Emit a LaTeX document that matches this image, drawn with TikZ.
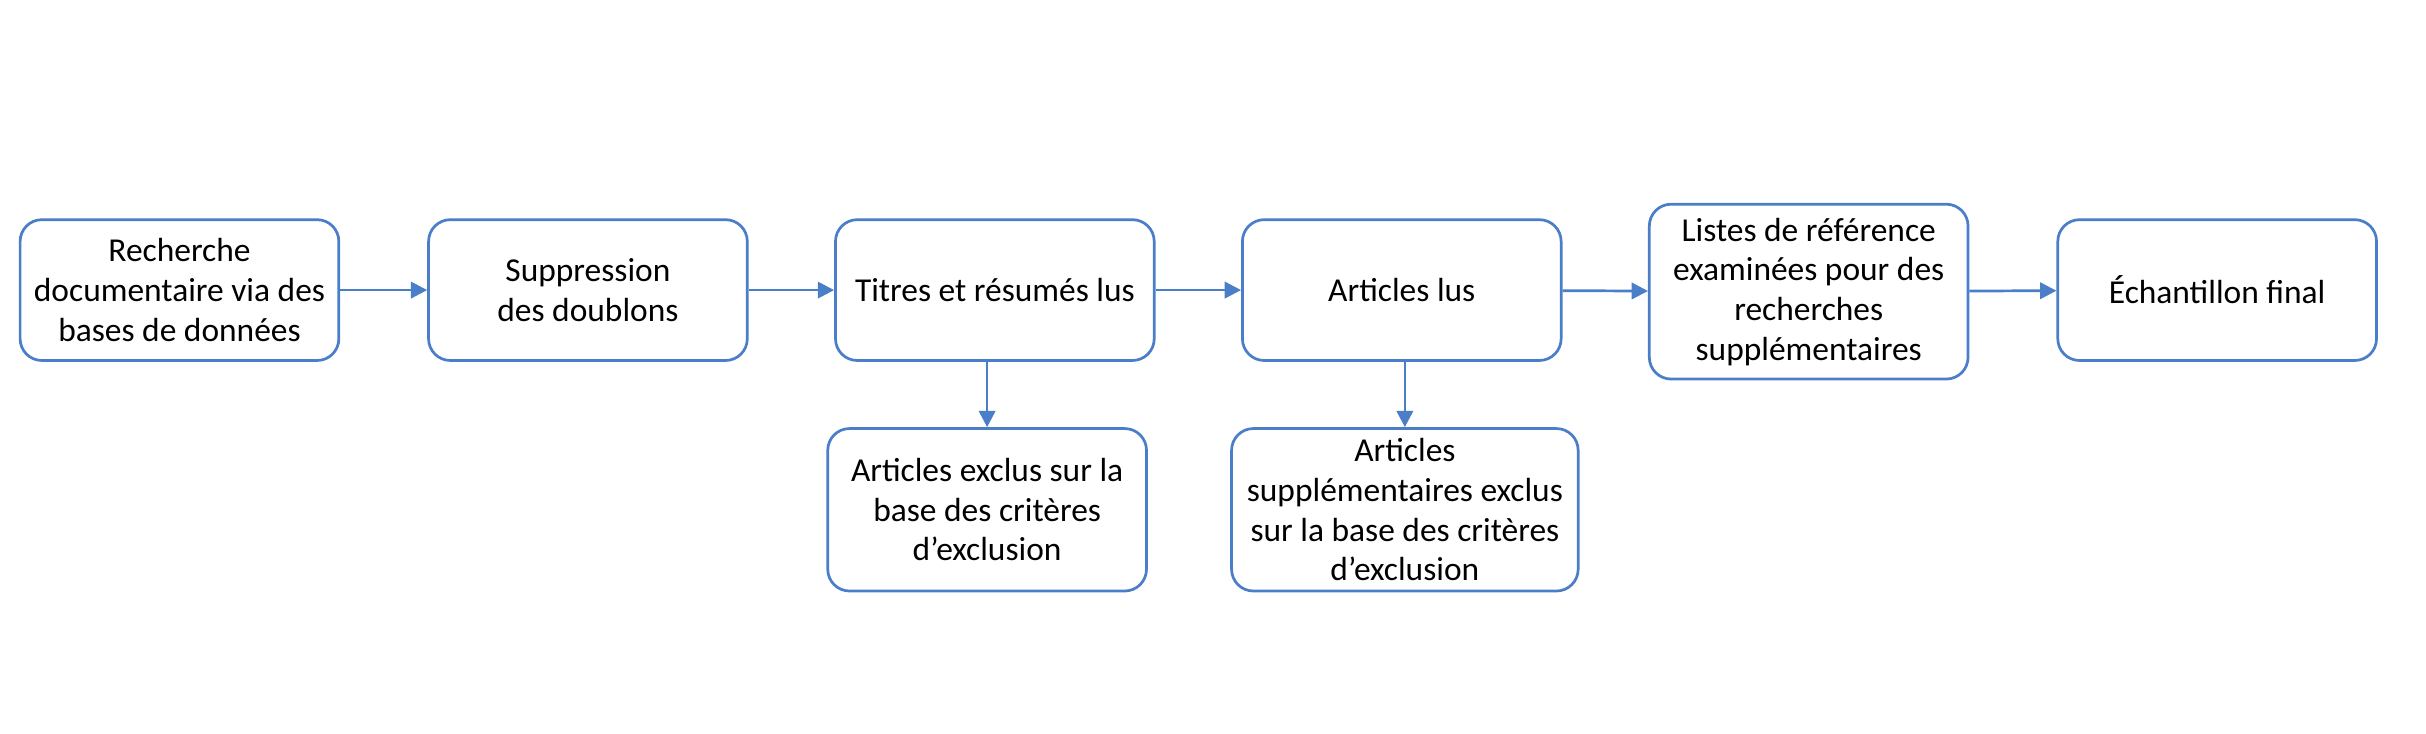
\documentclass[tikz,border=0pt]{standalone}
\usepackage{fontspec}
\setmainfont{Carlito}
\usetikzlibrary{arrows.meta}
\definecolor{boxblue}{HTML}{4A7EC8}
\tikzset{
  stage/.style={draw=boxblue,line width=1pt,rounded corners=8pt,align=center,
    minimum width=4.12cm,inner sep=2pt,
    font=\fontsize{12.3}{14.6}\selectfont},
  flow/.style={-{Triangle[length=6pt,width=6pt]},draw=boxblue,line width=1pt}
}
\begin{document}
\begin{tikzpicture}
\useasboundingbox (0,0) rectangle (31.36,9.48);

\node[stage,minimum height=1.82cm] (search) at (2.32,5.73) {Recherche\\documentaire via des\\bases de données};
\node[stage,minimum height=1.82cm] (dupl) at (7.6,5.73) {Suppression\\des doublons};
\node[stage,minimum height=1.82cm] (titles) at (12.86,5.73) {Titres et résumés lus};
\node[stage,minimum height=1.82cm] (read) at (18.12,5.73) {Articles lus};
\node[stage,minimum height=2.26cm] (lists) at (23.38,5.71) {Listes de référence\\examinées pour des\\recherches\\supplémentaires};
\node[stage,minimum height=1.82cm] (final) at (28.66,5.73) {Échantillon final};

\node[stage,minimum height=2.1cm] (excl) at (12.76,2.89) {Articles exclus sur la\\base des critères\\d'exclusion};
\node[stage,minimum height=2.1cm,minimum width=4.48cm] (exclsup) at (18.16,2.89) {Articles\\supplémentaires exclus\\sur la base des critères\\d'exclusion};

\draw[flow] (search) -- (dupl);
\draw[flow] (dupl) -- (titles);
\draw[flow] (titles) -- (read);
\draw[flow] (read) -- (lists);
\draw[flow] (lists) -- (final);
\draw[flow] (titles.south -| excl.north) -- (excl);
\draw[flow] (read.south -| exclsup.north) -- (exclsup);
\end{tikzpicture}
\end{document}
